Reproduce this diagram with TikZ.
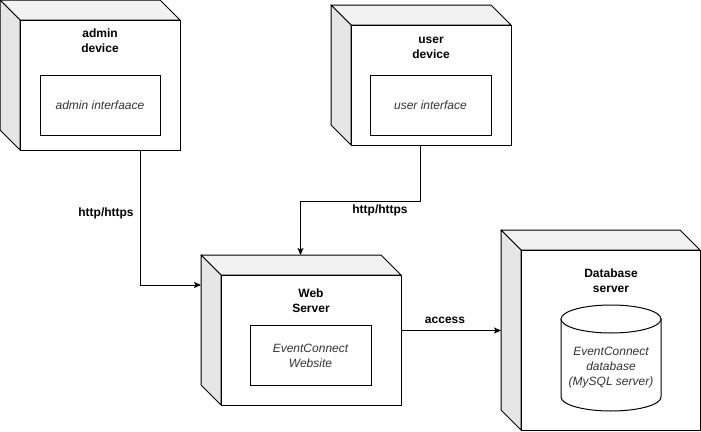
\documentclass[tikz,border=0pt]{standalone}
\usepackage{fontspec}
\setmainfont{Liberation Sans}
\usetikzlibrary{arrows.meta,calc}

\definecolor{topface}{HTML}{F2F2F2}
\definecolor{sideface}{HTML}{E6E6E6}
\definecolor{italictext}{HTML}{333333}

% 3D deployment box: front face named #1, spanning (#2,#3)-(#4,#5), depth 20
\newcommand\cubebox[5]{%
  \filldraw[fill=topface, line join=round] ({#2-20},{#3-20}) -- ({#4-20},{#3-20}) -- (#4,#3) -- (#2,#3) -- cycle;
  \filldraw[fill=sideface, line join=round] ({#2-20},{#3-20}) -- (#2,#3) -- (#2,#5) -- ({#2-20},{#5-20}) -- cycle;
  \node[draw, fill=white, anchor=north west, inner sep=0pt,
        minimum width={(#4-#2)*1pt}, minimum height={(#5-#3)*1pt}] (#1) at (#2,#3) {};
}

\tikzset{
  lbl/.style={font=\fontsize{12pt}{15pt}\selectfont\bfseries, text=black, align=center, inner sep=0pt},
  itl/.style={font=\fontsize{12pt}{15pt}\selectfont\itshape, text=italictext, align=center, inner sep=0pt},
  innerbox/.style={draw, fill=white, inner sep=0pt},
  arr/.style={-{Stealth[length=7pt,width=6pt,inset=1.5pt]}},
}

\begin{document}
\begin{tikzpicture}[x=1pt, y=-1pt, line width=1pt]
  \useasboundingbox (0,0) rectangle (701,431);

  % admin device
  \cubebox{admin}{20}{20}{180}{150}
  \node[lbl] (admintitle) at (100,40.5) {admin\\device};
  \node[innerbox, minimum width=120pt, minimum height=60pt] (adminui) at (100,105) {};
  \node[itl] (adminuitext) at (100,105) {admin interfaace};

  % user device
  \cubebox{user}{351}{25}{511}{145}
  \node[lbl] (usertitle) at (431,47.5) {user\\device};
  \node[innerbox, minimum width=121pt, minimum height=60pt] (userui) at (430.5,105) {};
  \node[itl] (useruitext) at (430.5,105) {user interface};

  % web server
  \cubebox{web}{221}{275}{401}{405}
  \node[lbl] (webtitle) at (311,300.5) {Web\\Server};
  \node[innerbox, minimum width=121pt, minimum height=60pt] (site) at (310.5,355) {};
  \node[itl] (sitetext) at (310.5,355.5) {EventConnect\\Website};

  % database server
  \cubebox{db}{521}{250}{700}{430}
  \node[lbl] (dbtitle) at (611,280.5) {Database\\server};
  \filldraw[fill=white] (561,319) -- (561,397) arc[start angle=180, end angle=360, x radius=50pt, y radius=14pt] -- (661,319);
  \filldraw[fill=white] (611,319) ellipse [x radius=50pt, y radius=14pt];
  \node[itl] (dbtext) at (611,368) {EventConnect\\database\\(MySQL server)};

  % connectors
  \coordinate (webleft) at ([xshift=-20pt,yshift=-10pt]web.north west);
  \coordinate (webtop) at ([xshift=-11pt,yshift=20pt]web.north);
  \coordinate (dbside) at ([xshift=-20pt]db.west);
  \coordinate (webout) at ([yshift=10pt]web.east);

  \draw[arr] ([xshift=40pt]admin.south) |- (webleft);
  \draw[arr] ([xshift=-11pt]user.south) -- ++(0,55) -| (webtop);
  \draw[arr] (webout) -- (webout -| dbside);

  \node[lbl] (lbladmin) at (106,213) {http/https};
  \node[lbl] (lbluser) at (380,210) {http/https};
  \node[lbl] (lblaccess) at (445,320) {access};
\end{tikzpicture}
\end{document}
